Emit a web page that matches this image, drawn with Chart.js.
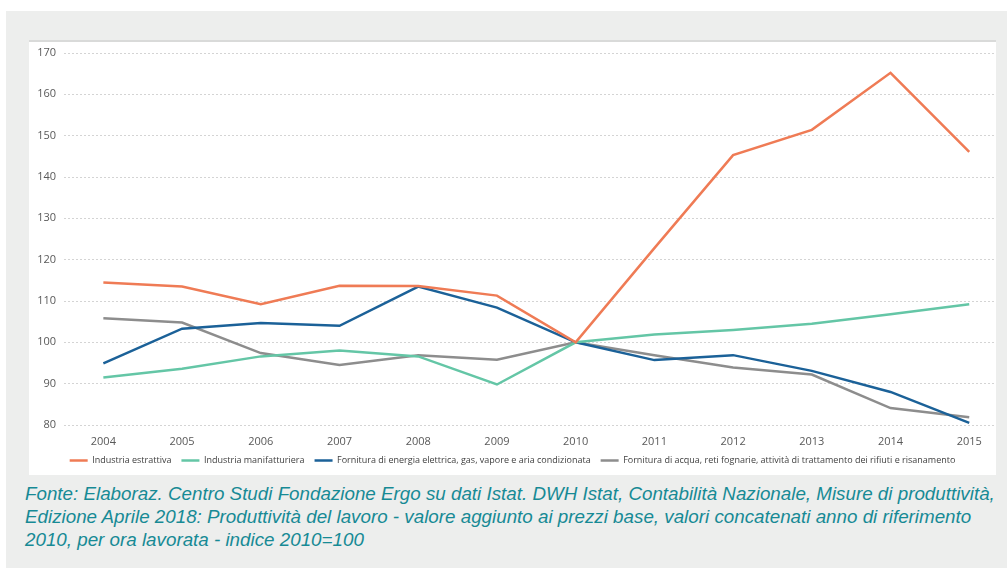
<!DOCTYPE html>
<html lang="it">
<head>
    <meta charset="UTF-8">
    <title>Produttività del lavoro - indice 2010=100</title>
    <script src="https://cdn.jsdelivr.net/npm/chart.js"></script>
    <style>
        html, body {
            margin: 0;
            padding: 0;
            background: #ffffff;
            width: 1007px;
            height: 568px;
            overflow: hidden;
        }
        .outer {
            position: absolute;
            left: 6px;
            top: 11px;
            width: 1001px;
            height: 557px;
            background: #edeeed;
        }
        .panel {
            position: absolute;
            left: 23px;
            top: 29px;
            width: 967px;
            height: 435px;
            background: #ffffff;
            border-top: 2px solid #d9dad9;
            box-sizing: border-box;
        }
        .caption {
            position: absolute;
            left: 19px;
            top: 471px;
            width: 985px;
            font-family: "Liberation Sans", Arial, sans-serif;
            font-style: italic;
            font-size: 18.8px;
            line-height: 23px;
            color: #178a95;
        }
    </style>
</head>
<body>
<div class="outer">
    <div class="panel">
        <canvas id="chart" width="967" height="433"></canvas>
    </div>
    <div class="caption">Fonte: Elaboraz. Centro Studi Fondazione Ergo su dati Istat. DWH Istat, Contabilità Nazionale, Misure di produttività, Edizione Aprile 2018: Produttività del lavoro - valore aggiunto ai prezzi base, valori concatenati anno di riferimento 2010, per ora lavorata - indice 2010=100</div>
</div>

<script>
    // dati (indice 2010=100)
    const years = [2004, 2005, 2006, 2007, 2008, 2009, 2010, 2011, 2012, 2013, 2014, 2015];
    const estrattiva = [114.5, 113.5, 109.2, 113.7, 113.6, 111.3, 100, 122.8, 145.3, 151.4, 165.2, 146.1];
    const manifatturiera = [91.5, 93.6, 96.6, 98.0, 96.6, 89.8, 100, 101.9, 103.0, 104.5, 106.8, 109.2];
    const energia = [94.9, 103.3, 104.7, 104.0, 113.5, 108.4, 100, 95.7, 96.9, 93.1, 88.0, 80.5];
    const acqua = [105.8, 104.8, 97.4, 94.5, 96.9, 95.8, 100, 96.9, 93.9, 92.2, 84.1, 81.9];
    const yTicks = [80, 90, 100, 110, 120, 130, 140, 150, 160, 170];

    const toPoints = vals => vals.map((v, i) => ({x: years[i], y: v}));

    const series = [
        {label: "Industria estrattiva", data: estrattiva, color: "#ef7b55"},
        {label: "Industria manifatturiera", data: manifatturiera, color: "#64c6a6"},
        {label: "Fornitura di energia elettrica, gas, vapore e aria condizionata", data: energia, color: "#1b6198"},
        {label: "Fornitura di acqua, reti fognarie, attività di trattamento dei rifiuti e risanamento", data: acqua, color: "#8d8d8d"}
    ];

    const tickFont = {family: "'Open Sans', sans-serif", size: 11};

    new Chart(document.getElementById("chart"), {
        type: 'line',
        data: {
            datasets: series.map(s => ({
                label: s.label,
                data: toPoints(s.data),
                borderColor: s.color,
                backgroundColor: s.color,
                borderWidth: 2.5,
                pointRadius: 0,
                tension: 0,
                fill: false
            }))
        },
        options: {
            responsive: false,
            animation: false,
            layout: {padding: {top: 11, right: 0, bottom: 0, left: 0}},
            scales: {
                x: {
                    type: 'linear',
                    min: 2003.5,
                    max: 2015.34,
                    afterBuildTicks: scale => { scale.ticks = years.map(v => ({value: v})); },
                    afterFit: scale => { scale.height = 21; },
                    grid: {display: false},
                    border: {display: false},
                    ticks: {
                        color: '#595959',
                        font: tickFont,
                        padding: 2,
                        callback: v => String(v)
                    }
                },
                y: {
                    min: 80,
                    max: 170,
                    afterBuildTicks: scale => { scale.ticks = yTicks.map(v => ({value: v})); },
                    afterFit: scale => { scale.width = 35; scale.paddingTop = 0; scale.paddingBottom = 0; },
                    border: {display: false, dash: [2, 2]},
                    grid: {
                        color: '#d4d4d4',
                        lineWidth: 1,
                        drawTicks: false
                    },
                    ticks: {
                        color: '#595959',
                        font: tickFont,
                        padding: 8
                    }
                }
            },
            plugins: {
                tooltip: {enabled: false},
                legend: {
                    position: 'bottom',
                    labels: {
                        usePointStyle: true,
                        pointStyle: 'line',
                        pointStyleWidth: 18,
                        color: '#404040',
                        padding: 10,
                        font: {family: "'Open Sans', sans-serif", size: 9}
                    }
                }
            }
        }
    });
</script>
</body>
</html>
